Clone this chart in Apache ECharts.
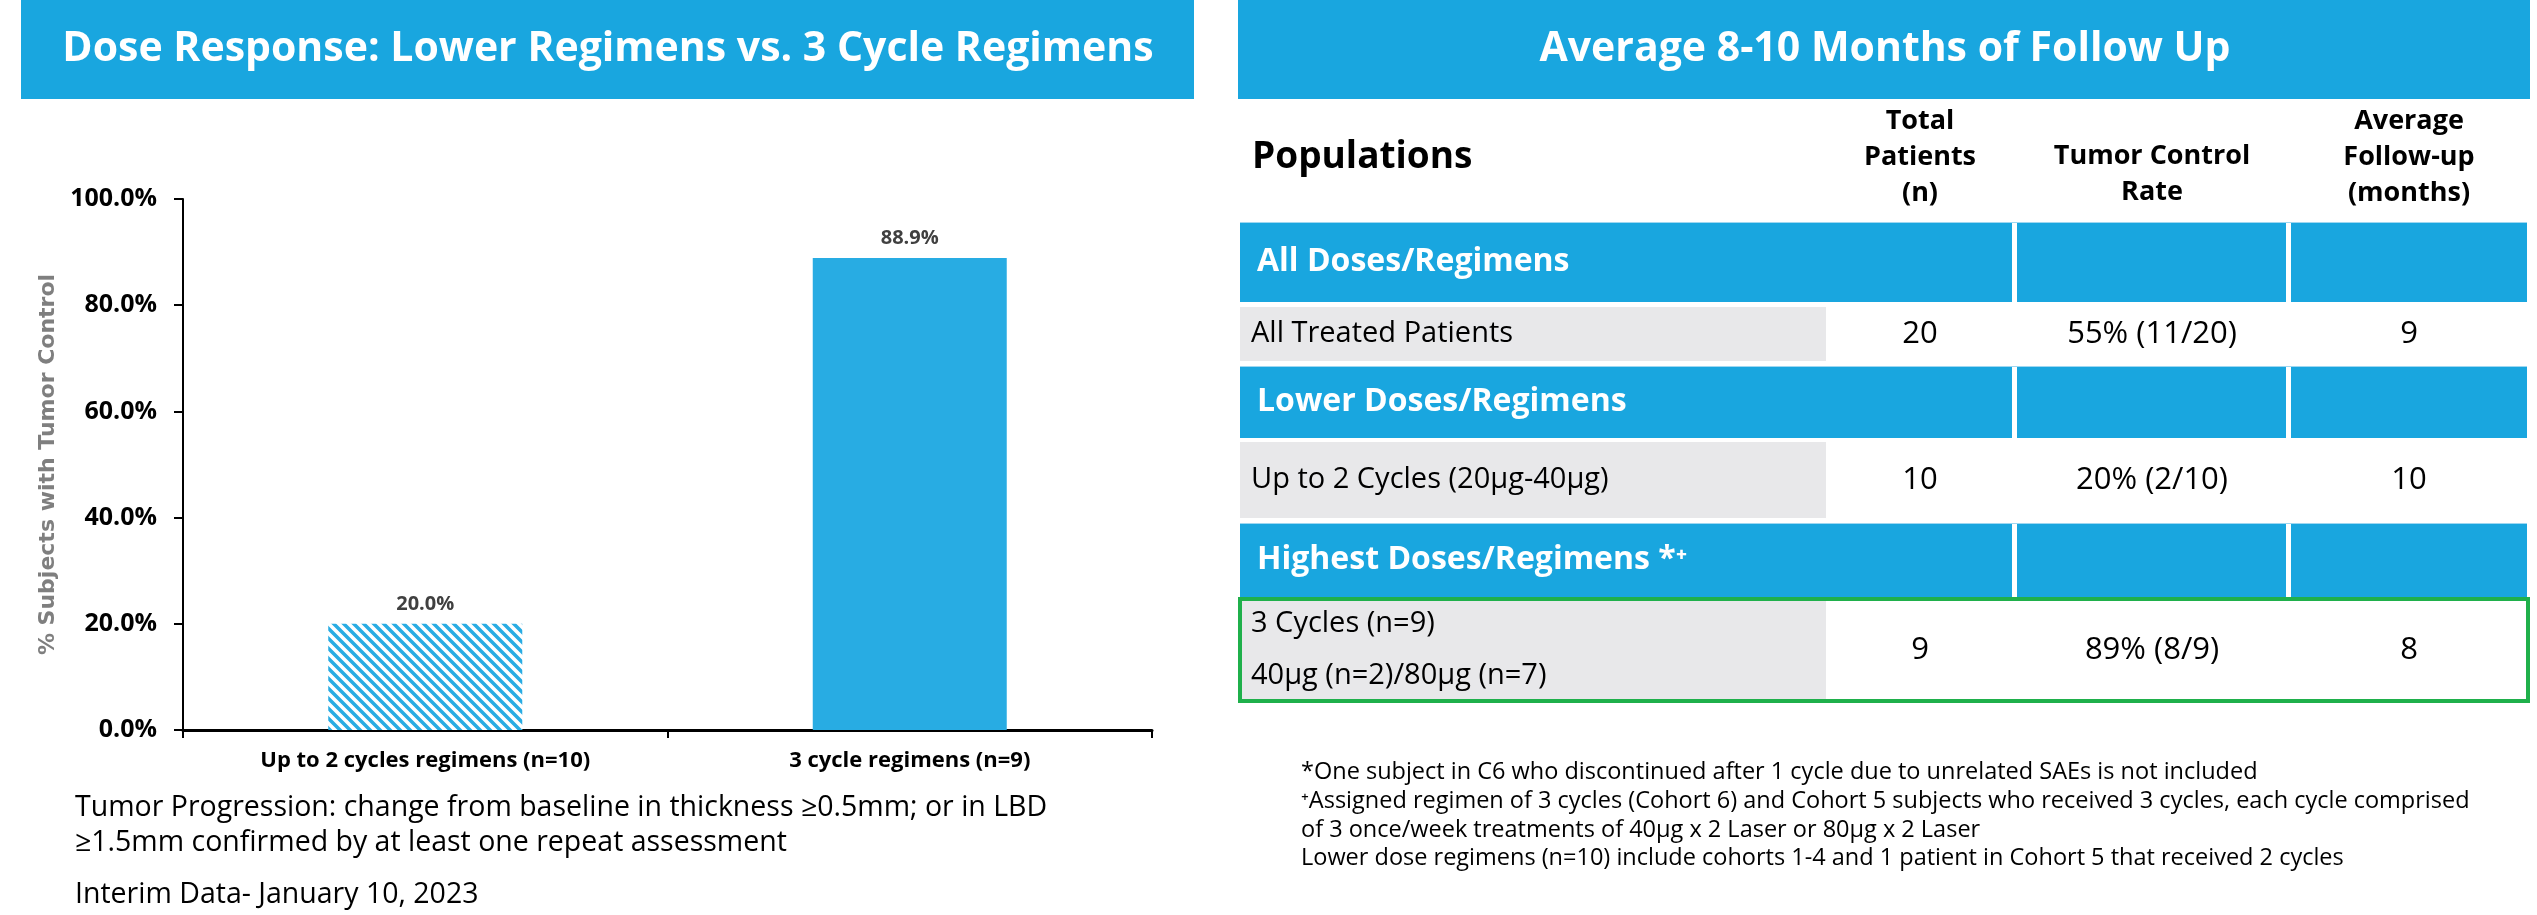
<!DOCTYPE html>
<html>
<head>
<meta charset="utf-8">
<script src="https://cdn.jsdelivr.net/npm/echarts@6/dist/echarts.min.js"></script>
<style>
html,body{margin:0;padding:0;background:#fff;}
#c{width:2537px;height:915px;}
</style>
</head>
<body>
<div id="c"></div>
<script>
// ---- data ----
const leftTitle = 'Dose Response: Lower Regimens vs. 3 Cycle Regimens';
const rightTitle = 'Average 8-10 Months of Follow Up';
const categories = ['Up to 2 cycles regimens (n=10)', '3 cycle regimens (n=9)'];
const tumorControlPct = [20.0, 88.9];
const yTicks = [0, 20, 40, 60, 80, 100];
const yAxisName = '% Subjects with Tumor Control';
const leftNotes = [
  'Tumor Progression: change from baseline in thickness \u22650.5mm; or in LBD',
  '\u22651.5mm confirmed by at least one repeat assessment',
  'Interim Data- January 10, 2023'
];
const tableHeaders = ['Populations', 'Total\nPatients\n(n)', 'Tumor Control\nRate', 'Average\nFollow-up\n(months)'];
const groupTitles = ['All Doses/Regimens', 'Lower Doses/Regimens', 'Highest Doses/Regimens *\u207A'];
const populations = ['All Treated Patients', 'Up to 2 Cycles (20\u00B5g-40\u00B5g)', '3 Cycles (n=9)\n40\u00B5g (n=2)/80\u00B5g (n=7)'];
const totalPatients = [20, 10, 9];
const controlRates = ['55% (11/20)', '20% (2/10)', '89% (8/9)'];
const followUpMonths = [9, 10, 8];
const rightNotes = [
  '*One subject in C6 who discontinued after 1 cycle due to unrelated SAEs is not included',
  '\u207AAssigned regimen of 3 cycles (Cohort 6) and Cohort 5 subjects who received 3 cycles, each cycle comprised',
  'of 3 once/week treatments of 40\u00B5g x 2 Laser or 80\u00B5g x 2 Laser',
  'Lower dose regimens (n=10) include cohorts 1-4 and 1 patient in Cohort 5 that received 2 cycles'
];

// ---- styles ----
const FONT = "'Open Sans', 'Noto Sans', sans-serif";
const BLUE = '#19A6DF';
const BAR = '#28ACE3';
const GREY = '#E8E8EA';
const GREEN = '#1FB04B';

function stripes() {
  const c = document.createElement('canvas');
  c.width = 10; c.height = 10;
  const g = c.getContext('2d');
  g.fillStyle = '#fff'; g.fillRect(0, 0, 10, 10);
  g.strokeStyle = BAR; g.lineWidth = 3.5;
  g.beginPath();
  g.moveTo(-5, -5); g.lineTo(15, 15);
  g.moveTo(-5, 5); g.lineTo(5, 15);
  g.moveTo(5, -5); g.lineTo(15, 5);
  g.stroke();
  return c;
}

const chart = echarts.init(document.getElementById('c'), null, {renderer: 'canvas'});

// table layout
const tblL = 1240, tblR = 2527;
const colCells = [[1240, 2012], [2017, 2286], [2291, 2527]];
const valX = [1920, 2152, 2409];
const blueRows = [[222, 302], [366, 438], [523, 597]];
const greyRows = [[307, 361], [442, 518], [601, 699]];
const greyRight = 1826;

const g = [];
// title bars
g.push({type: 'rect', shape: {x: 21, y: 0, width: 1173, height: 99}, style: {fill: BLUE}});
g.push({type: 'text', x: 608, y: 49, style: {text: leftTitle, fill: '#fff', font: 'bold 41px ' + FONT, align: 'center', verticalAlign: 'middle'}});
g.push({type: 'rect', shape: {x: 1238, y: 0, width: 1292, height: 99}, style: {fill: BLUE}});
g.push({type: 'text', x: 1885, y: 49, style: {text: rightTitle, fill: '#fff', font: 'bold 41px ' + FONT, align: 'center', verticalAlign: 'middle'}});

// left notes
const leftNoteY = [808, 843, 895];
leftNotes.forEach((t, i) => g.push({type: 'text', x: 75, y: leftNoteY[i], style: {text: t, fill: '#000', font: '28.5px ' + FONT, verticalAlign: 'middle'}}));

// table headers
g.push({type: 'text', x: 1252, y: 157, style: {text: tableHeaders[0], fill: '#000', font: 'bold 37px ' + FONT, verticalAlign: 'middle'}});
g.push({type: 'text', x: valX[0], y: 157, style: {text: tableHeaders[1], fill: '#000', font: 'bold 27px ' + FONT, align: 'center', verticalAlign: 'middle', lineHeight: 36}});
g.push({type: 'text', x: valX[1], y: 174, style: {text: tableHeaders[2], fill: '#000', font: 'bold 27px ' + FONT, align: 'center', verticalAlign: 'middle', lineHeight: 36}});
g.push({type: 'text', x: valX[2], y: 157, style: {text: tableHeaders[3], fill: '#000', font: 'bold 27px ' + FONT, align: 'center', verticalAlign: 'middle', lineHeight: 36}});

// blue group rows
blueRows.forEach((r, i) => {
  colCells.forEach(c => g.push({type: 'rect', shape: {x: c[0], y: r[0], width: c[1] - c[0], height: r[1] - r[0]}, style: {fill: BLUE}}));
  g.push({type: 'rect', shape: {x: tblL, y: r[0], width: tblR - tblL, height: 1}, style: {fill: '#9ED7F1'}});
  g.push({type: 'text', x: 1257, y: (r[0] + r[1]) / 2, style: {text: groupTitles[i], fill: '#fff', font: 'bold 32px ' + FONT, verticalAlign: 'middle'}});
});
// grey data rows
greyRows.forEach((r, i) => {
  g.push({type: 'rect', shape: {x: tblL, y: r[0], width: greyRight - tblL, height: r[1] - r[0]}, style: {fill: GREY}});
  const cy = (r[0] + r[1]) / 2;
  g.push({type: 'text', x: 1251, y: cy, style: {text: populations[i], fill: '#000', font: '29px ' + FONT, verticalAlign: 'middle', lineHeight: 52}});
  g.push({type: 'text', x: valX[0], y: cy, style: {text: String(totalPatients[i]), fill: '#000', font: '31px ' + FONT, align: 'center', verticalAlign: 'middle'}});
  g.push({type: 'text', x: valX[1], y: cy, style: {text: controlRates[i], fill: '#000', font: '31px ' + FONT, align: 'center', verticalAlign: 'middle'}});
  g.push({type: 'text', x: valX[2], y: cy, style: {text: String(followUpMonths[i]), fill: '#000', font: '31px ' + FONT, align: 'center', verticalAlign: 'middle'}});
});
// green highlight box
g.push({type: 'rect', shape: {x: 1240, y: 599, width: 1288, height: 102}, style: {fill: 'none', stroke: GREEN, lineWidth: 4}});

// right notes
const rightNoteY = [772, 801, 830, 858];
rightNotes.forEach((t, i) => g.push({type: 'text', x: 1301, y: rightNoteY[i], style: {text: t, fill: '#000', font: '23.5px ' + FONT, verticalAlign: 'middle'}}));

chart.setOption({
  backgroundColor: '#fff',
  animation: false,
  grid: {left: 183, top: 199, width: 969, height: 531, containLabel: false},
  xAxis: {
    type: 'category',
    data: categories,
    axisLine: {lineStyle: {color: '#000', width: 3}},
    axisTick: {show: true, length: 8, lineStyle: {color: '#000', width: 2}},
    axisLabel: {color: '#000', fontFamily: FONT, fontWeight: 'bold', fontSize: 22, margin: 20}
  },
  yAxis: {
    type: 'value',
    min: yTicks[0], max: yTicks[yTicks.length - 1], interval: yTicks[1] - yTicks[0],
    name: yAxisName,
    nameLocation: 'middle', nameRotate: 90, nameGap: 124,
    nameTextStyle: {color: '#7F7F7F', fontFamily: "'DejaVu Sans', sans-serif", fontWeight: 'bold', fontSize: 22},
    axisLine: {show: true, lineStyle: {color: '#000', width: 2}},
    axisTick: {show: true, length: 9, lineStyle: {color: '#000', width: 2}},
    splitLine: {show: false},
    axisLabel: {color: '#000', fontFamily: FONT, fontWeight: 'bold', fontSize: 25, margin: 26,
      formatter: v => v.toFixed(1) + '%'}
  },
  series: [{
    type: 'bar',
    barWidth: 194,
    data: tumorControlPct.map((v, i) => ({
      value: v,
      itemStyle: {color: i === 0 ? {image: stripes(), repeat: 'repeat'} : BAR}
    })),
    label: {show: true, position: 'top', distance: 10, color: '#404040', fontFamily: FONT, fontWeight: 'bold', fontSize: 20,
      formatter: p => p.value.toFixed(1) + '%'}
  }],
  graphic: g
});
</script>
</body>
</html>
